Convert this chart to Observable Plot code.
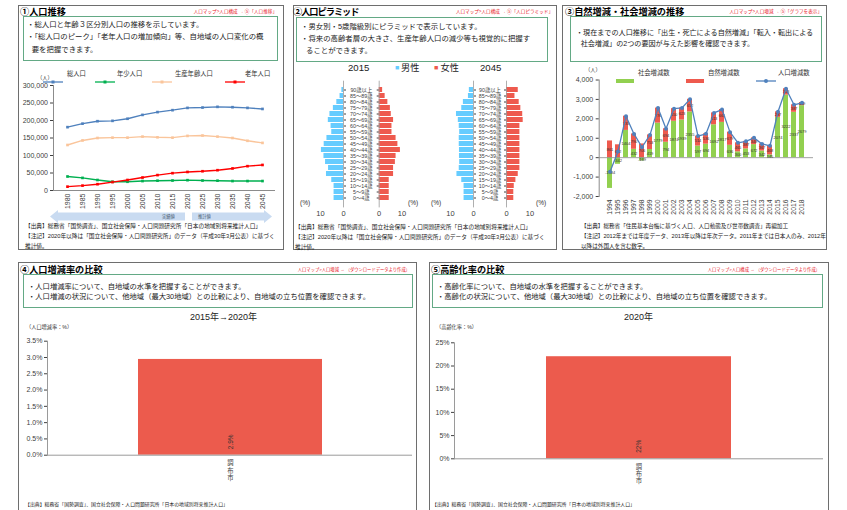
<!DOCTYPE html>
<html lang="ja">
<head>
<meta charset="utf-8">
<script src="https://cdn.jsdelivr.net/npm/d3@7"></script>
<script src="https://cdn.jsdelivr.net/npm/@observablehq/plot@0.6"></script>
<style>
html,body{margin:0;padding:0;background:#fff;}
#root{position:relative;width:847px;height:510px;overflow:hidden;background:#fff;font-family:"Liberation Sans","Noto Sans CJK JP",sans-serif;color:#000;}
#root div{position:absolute;white-space:nowrap;}
.panel{border:1px solid #6e6e6e;box-sizing:border-box;}
.gbox{border:1.2px solid #63a985;box-sizing:border-box;}
.ttl{font-weight:bold;font-size:9.2px;line-height:12px;}
.lnk{color:#e8141e;font-size:4.6px;line-height:6px;text-align:right;}
.txt{font-size:7.4px;color:#1a1a1a;}
.ft{color:#1a1a1a;}
.chart svg{display:block;}
</style>
</head>
<body><div id="root"></div>
<script>
// ================= DATA =================
// Panel 1: population trend
const years1 = ["1980","1985","1990","1995","2000","2005","2010","2015","2020","2025","2030","2035","2040","2045"];
const totalPop   = [181000,191000,198000,199000,205000,216000,224000,229500,236000,237000,239000,238000,236000,233000];
const youngPop   = [40000,36000,30000,25000,25000,27000,28000,28500,29500,28500,28000,27000,27000,27000];
const workingPop = [130000,143000,150000,151000,151000,154000,152000,151000,156000,157000,154000,150000,142000,136000];
const elderlyPop = [11000,14000,18000,24000,30000,37000,44000,49500,53000,55000,58000,63000,69500,73000];
const seriesNames1  = ["総人口","年少人口","生産年齢人口","老年人口"];
const seriesColors1 = ["#4f81bd","#00b050","#fac59b","#ff0000"];
const yTicks1 = [0,50000,100000,150000,200000,250000,300000];

// Panel 2: population pyramid (%), from 0-4 upward
const ageGroups = ["0～4歳","5～9歳","10～14歳","15～19歳","20～24歳","25～29歳","30～34歳","35～39歳","40～44歳","45～49歳","50～54歳","55～59歳","60～64歳","65～69歳","70～74歳","75～79歳","80～84歳","85～89歳","90歳以上"];
const male2015   = [4.1,4.1,4.1,5.1,7.4,6.5,7.8,8.5,9.6,8.4,7.2,5.1,5.4,6.6,5.9,4.4,2.9,1.5,0.7];
const female2015 = [4.4,4.4,4.4,4.4,6.3,6.3,7.1,7.4,9.3,8.2,7.4,5.6,5.6,6.3,5.3,4.9,3.8,2.6,1.5];
const male2045   = [4.1,4.1,4.1,5.1,7.2,6.2,6.0,6.1,6.1,6.2,6.2,6.0,6.2,6.6,7.4,5.1,4.4,2.2,1.8];
const female2045 = [3.1,3.1,3.3,4.0,5.0,5.7,5.7,5.7,5.7,5.7,5.7,5.7,5.7,7.1,6.9,6.1,5.4,3.6,5.0];
const pyramidYears = ["2015","2045"];

// Panel 3: natural / social change
const years3 = ["1994","1995","1996","1997","1998","1999","2000","2001","2002","2003","2004","2005","2006","2007","2008","2009","2010","2011","2012","2013","2014","2015","2016","2017","2018"];
const socialChange  = [-1584,-342,1404,432,-169,419,1779,794,1874,1939,2355,597,694,1692,1817,636,300,453,672,342,145,2074,3222,2337,2679];
const naturalChange = [861,662,733,790,706,753,776,694,650,623,652,514,536,613,661,679,465,387,348,367,468,287,328,387,149];
const popChange     = [-723,320,2137,1222,537,1172,2555,1488,2524,2562,3007,1111,1230,2305,2478,1315,765,840,1020,709,613,2361,3550,2724,2828];
const seriesNames3  = ["社会増減数","自然増減数","人口増減数"];
const seriesColors3 = ["#92d050","#ee5a4e","#4f81bd"];
const yTicks3 = [-2000,-1000,0,1000,2000,3000,4000];

// Panels 4 & 5
const regions = ["調布市"];
const growthRate = [2.94];
const agingRate = [22.0];
const yTicks4 = [0,0.5,1.0,1.5,2.0,2.5,3.0,3.5];
const yTicks5 = [0,5,10,15,20,25];

// ================= HELPERS =================
const FONT = '"Liberation Sans","Noto Sans CJK JP",sans-serif';
const root = document.getElementById("root");
function el(cls, css, text) {
  const d = document.createElement("div");
  if (cls) d.className = cls;
  Object.assign(d.style, css);
  if (text != null) d.textContent = text;
  root.appendChild(d);
  return d;
}
function rect(cls, x1, y1, x2, y2) { return el(cls, {left:x1+"px", top:y1+"px", width:(x2-x1)+"px", height:(y2-y1)+"px"}); }
function textAt(t, x, yc, size, lh, extra={}) {
  return el(extra.cls || "", Object.assign({left:x+"px", top:(yc-lh/2)+"px", fontSize:size+"px", lineHeight:lh+"px"}, extra.css||{}), t);
}
function textRight(t, xr, yc, size, lh, cls) {
  return el(cls, {right:(847-xr)+"px", top:(yc-lh/2)+"px", fontSize:size+"px", lineHeight:lh+"px"}, t);
}
function place(svg, x, y) {
  const d = el("chart", {left:x+"px", top:y+"px"});
  d.appendChild(svg);
  return d;
}
const baseStyle = {background:"transparent", fontFamily:FONT, color:"#404040", overflow:"visible"};

// ================= PANEL FRAMES =================
rect("panel", 18, 5, 284, 250);
rect("panel", 293, 5, 557, 250);
rect("panel", 562, 5, 827, 250);
rect("panel", 18, 262, 417, 515);
rect("panel", 429, 262, 829, 515);

rect("gbox", 23, 16, 278, 61);
rect("gbox", 296, 17, 548, 62);
rect("gbox", 570, 16, 822, 62);
rect("gbox", 23, 274, 413, 308);
rect("gbox", 432, 274, 823, 308);

// titles
textAt("①人口推移", 20, 12, 9.2, 12, {cls:"ttl"});
textAt("②人口ピラミッド", 293, 12, 9.2, 12, {cls:"ttl", css:{letterSpacing:"-1px"}});
textAt("③自然増減・社会増減の推移", 565, 12, 9.2, 12, {cls:"ttl"});
textAt("④人口増減率の比較", 20, 270, 9.2, 12, {cls:"ttl"});
textAt("⑤高齢化率の比較", 431, 270, 9.2, 12, {cls:"ttl"});

// links
textRight("人口マップ>人口構成 → ⑤「人口推移」", 277, 12, 4.6, 6, "lnk");
textRight("人口マップ>人口構成 → ⑤「人口ピラミッド」", 553, 12, 4.6, 6, "lnk");
textRight("人口マップ>人口増減 → ⑤「グラフを表示」", 822, 12, 4.6, 6, "lnk");
textRight("人口マップ>人口増減 → （ダウンロードデータより作成）", 410, 270, 4.3, 6, "lnk");
textRight("人口マップ>人口構成 → （ダウンロードデータより作成）", 820, 270, 4.3, 6, "lnk");

// body texts
function lines(arr, x, y0, lh, size, indents) {
  arr.forEach((t, i) => textAt(t, x + (indents ? indents[i] : 0), y0 + i*lh, size, lh, {cls:"txt"}));
}
lines(["・総人口と年齢３区分別人口の推移を示しています。","・「総人口のピーク」「老年人口の増加傾向」等、自地域の人口変化の概","要を把握できます。"], 27, 25, 12.5, 7.4, [0,0,4.7]);
lines(["・男女別・5歳階級別にピラミッドで表示しています。","・将来の高齢者層の大きさ、生産年齢人口の減少等も視覚的に把握す","ることができます。"], 301, 26.7, 12, 7.4, [0,0,5]);
lines(["・現在までの人口推移に「出生・死亡による自然増減」「転入・転出による","社会増減」の2つの要因が与えた影響を確認できます。"], 576, 33.3, 11.4, 7.1, [0,4.7]);
lines(["・人口増減率について、自地域の水準を把握することができます。","・人口増減の状況について、他地域（最大30地域）との比較により、自地域の立ち位置を確認できます。"], 28, 287.3, 10, 7.3);
lines(["・高齢化率について、自地域の水準を把握することができます。","・高齢化の状況について、他地域（最大30地域）との比較により、自地域の立ち位置を確認できます。"], 437, 286.7, 10, 7.3);

// footers
function foot(arr, x, y0, lh, size) { arr.forEach((t,i) => textAt(t, x, y0 + i*lh, size, lh, {cls:"ft"})); }
const src1 = "【出典】総務省「国勢調査」、国立社会保障・人口問題研究所「日本の地域別将来推計人口」";
const note1 = "【注記】2020年以降は「国立社会保障・人口問題研究所」のデータ（平成30年3月公表）に基づく";
foot([src1, note1, "推計値。"], 25, 227, 9.7, 5.7);
foot([src1, note1, "推計値。"], 295, 228, 9.7, 5.7);
foot(["【出典】総務省「住民基本台帳に基づく人口、人口動態及び世帯数調査」再編加工","【注記】2012年までは年度データ、2013年以降は年次データ。2011年までは日本人のみ、2012年","以降は外国人を含む数字。"], 581, 226, 10, 5.6);
foot([src1], 25, 505, 8, 4.9);
foot([src1], 432, 505, 8, 4.9);

// ================= PANEL 1 =================
// legend
const leg1 = [[43,67],[95,117],[152,175],[225,245]];
seriesNames1.forEach((n, i) => {
  const [lx, tx] = leg1[i];
  const d = el("", {left:lx+"px", top:"71px", width:"20px", height:"6px"});
  d.innerHTML = `<svg width="20" height="6"><line x1="0" y1="3" x2="20" y2="3" stroke="${seriesColors1[i]}" stroke-width="1.3"/><rect x="8.5" y="1.5" width="3" height="3" fill="${seriesColors1[i]}"/></svg>`;
  textAt(n, tx, 74, 6.3, 8, {css:{color:"#333"}});
});
textAt("（人）", 37, 78.3, 5.3, 7, {css:{color:"#333"}});

const rows1 = [totalPop, youngPop, workingPop, elderlyPop].flatMap((vals, s) =>
  years1.map((y, i) => ({year: y, value: vals[i], name: seriesNames1[s]})));
place(Plot.plot({
  width: 290, height: 155,
  marginLeft: 53, marginRight: 15, marginTop: 23, marginBottom: 27,
  style: Object.assign({fontSize: "7px"}, baseStyle),
  x: {type: "point", domain: years1, padding: 0.5, label: null},
  y: {domain: [0, 300000], label: null},
  color: {domain: seriesNames1, range: seriesColors1},
  marks: [
    Plot.frame({anchor: "left", stroke: "#8c8c8c"}),
    Plot.ruleY([0], {stroke: "#8c8c8c"}),
    Plot.axisY({ticks: yTicks1, tickSize: 3, tickPadding: 2.5, tickFormat: d3.format(","), fontSize: 7}),
    Plot.axisX({tickRotate: -90, tickSize: 0, tickPadding: 3, fontSize: 7}),
    Plot.line(rows1, {x: "year", y: "value", z: "name", stroke: "name", strokeWidth: 1.4}),
    Plot.dot(rows1, {x: "year", y: "value", fill: "name", symbol: "square", r: 1.5})
  ]
}), 0, 62);

// arrows (actual / projected)
el("", {left:"50px", top:"210px", width:"135px", height:"13px", background:"#c9dbf1",
  clipPath:"polygon(0 50%, 8px 0, 8px 20%, 100% 20%, 100% 80%, 8px 80%, 8px 100%)"});
el("", {left:"192px", top:"210px", width:"80px", height:"13px", background:"#c9dbf1",
  clipPath:"polygon(0 20%, calc(100% - 8px) 20%, calc(100% - 8px) 0, 100% 50%, calc(100% - 8px) 100%, calc(100% - 8px) 80%, 0 80%)"});
textAt("実績値", 162, 216.5, 4.3, 6, {css:{color:"#44546a"}});
textAt("推計値", 198, 216.5, 4.3, 6, {css:{color:"#44546a"}});

// ================= PANEL 2 =================
textAt(pyramidYears[0], 348, 68.3, 9.6, 12, {css:{color:"#222"}});
textAt(pyramidYears[1], 480, 68.3, 9.6, 12, {css:{color:"#222"}});
textAt("■", 395, 68.3, 7, 12, {css:{color:"#66ccff"}});
textAt("男性", 401, 68.3, 9.2, 12, {css:{color:"#222"}});
textAt("■", 434, 68.3, 7, 12, {css:{color:"#ee5a4e"}});
textAt("女性", 440.5, 68.3, 9.2, 12, {css:{color:"#222"}});
[[300,202.7],[408,202.7],[431,202.7],[536,202.7]].forEach(([x,y]) => textAt("(%)", x, y, 6.5, 8, {css:{color:"#333"}}));

function pyrHalf(values, color, x0, x10, isMale, labelPad) {
  const left = 288, W = 270, H = 148;
  const rows = ageGroups.map((a, i) => ({age: a, v: values[i]}));
  const marginLeft = isMale ? x10 - left : x0 - left;
  const marginRight = isMale ? left + W - x0 : left + W - x10;
  const svg = Plot.plot({
    width: W, height: H, marginLeft, marginRight, marginTop: 5.7, marginBottom: 15.6,
    style: Object.assign({fontSize: "7px"}, baseStyle),
    x: {domain: [0, 10], reverse: isMale, label: null},
    y: {type: "band", domain: ageGroups.slice().reverse(), padding: 0.1, label: null},
    marks: [
      Plot.barX(rows, {x: "v", y: "age", fill: color}),
      Plot.ruleX([0], {stroke: "#9a9a9a", strokeWidth: 0.8}),
      Plot.axisX({ticks: [0, 10], tickSize: 0, tickPadding: 3, fontSize: 7.5}),
      isMale
        ? Plot.axisY({anchor: "right", tickSize: 2, tickPadding: labelPad, textAnchor: "middle", fontSize: 5.3})
        : Plot.axisY({anchor: "left", tickSize: 2, tickFormat: () => ""})
    ]
  });
  place(svg, left, 75);
}
pyrHalf(male2015, "#66ccff", 343, 320, true, 15.8);
pyrHalf(female2015, "#ee5a4e", 378.7, 401.5, false);
pyrHalf(male2045, "#66ccff", 473, 450, true, 14.5);
pyrHalf(female2045, "#ee5a4e", 506, 529.5, false);

// ================= PANEL 3 =================
const leg3 = [[616,638],[686,708],[756,778]];
seriesNames3.forEach((n, i) => {
  const [lx, tx] = leg3[i];
  const d = el("", {left:lx+"px", top:"70px", width:"20px", height:"6px"});
  d.innerHTML = i < 2
    ? `<svg width="18" height="6"><rect x="0" y="1" width="18" height="4" fill="${seriesColors3[i]}"/></svg>`
    : `<svg width="20" height="6"><line x1="0" y1="3" x2="20" y2="3" stroke="${seriesColors3[i]}" stroke-width="1.3"/><circle cx="10" cy="3" r="2" fill="${seriesColors3[i]}"/></svg>`;
  textAt(n, tx, 73, 6.3, 8, {css:{color:"#333"}});
});
textAt("（人）", 585, 70.7, 5.3, 7, {css:{color:"#333"}});

const rows3 = years3.flatMap((y, i) => [
  {year: y, type: seriesNames3[0], value: socialChange[i]},
  {year: y, type: seriesNames3[1], value: naturalChange[i]}
]);
const line3 = years3.map((y, i) => ({year: y, value: popChange[i]}));
place(Plot.plot({
  width: 270, height: 158,
  marginLeft: 40.7, marginRight: 15, marginTop: 17.5, marginBottom: 24,
  style: Object.assign({fontSize: "7px"}, baseStyle),
  x: {type: "band", domain: years3, padding: 0.37, label: null},
  y: {domain: [-2000, 4000], label: null},
  color: {domain: seriesNames3.slice(0, 2), range: seriesColors3.slice(0, 2)},
  marks: [
    Plot.barY(rows3, {x: "year", y: "value", fill: "type"}),
    Plot.ruleY([0], {stroke: "#8c8c8c", strokeWidth: 0.8}),
    Plot.frame({anchor: "left", stroke: "#8c8c8c"}),
    Plot.axisY({ticks: yTicks3, tickSize: 3, tickPadding: 3, tickFormat: d => d.toLocaleString("en-US"), fontSize: 7}),
    Plot.axisX({tickRotate: -90, tickSize: 0, tickPadding: 3, fontSize: 6.8}),
    Plot.text(rows3, Plot.stackY({x: "year", y: "value", z: "type", text: d => String(d.value), fontSize: 4, fill: "#333"})),
    Plot.line(line3, {x: "year", y: "value", stroke: seriesColors3[2], strokeWidth: 1.3}),
    Plot.dot(line3, {x: "year", y: "value", fill: seriesColors3[2], r: 2})
  ]
}), 558, 62);

// ================= PANEL 4 =================
textAt("2015年→2020年", 190, 317, 9, 12, {css:{color:"#222"}});
textAt("（人口増減率：%）", 26, 327, 5.2, 7, {css:{color:"#333"}});
const rows4 = regions.map((r, i) => ({r, v: growthRate[i]}));
place(Plot.plot({
  width: 425, height: 160,
  marginLeft: 47, marginRight: 13, marginTop: 8.7, marginBottom: 37.3,
  style: Object.assign({fontSize: "7px"}, baseStyle),
  x: {type: "band", domain: regions, padding: 0.3285, label: null},
  y: {domain: [0, 3.5], label: null},
  marks: [
    Plot.barY(rows4, {x: "r", y: "v", fill: "#ec5b4d"}),
    Plot.ruleY([0], {stroke: "#9a9a9a"}),
    Plot.frame({anchor: "left", stroke: "#9a9a9a"}),
    Plot.axisY({ticks: yTicks4, tickSize: 3, tickPadding: 2, tickFormat: d => d.toFixed(1) + "%", fontSize: 7}),
    Plot.axisX({tickSize: 0, tickPadding: 5, tickFormat: d => Array.from(d).join("\n"), fontSize: 6.3, lineHeight: 1.15}),
    Plot.text(rows4, {x: "r", y: 0, text: d => d.v.toFixed(1) + "%", rotate: -90, textAnchor: "start", dy: -6, fontSize: 6.5, fill: "#333"})
  ]
}), 0, 332);

// ================= PANEL 5 =================
textAt("2020年", 624, 317, 9, 12, {css:{color:"#222"}});
textAt("（高齢化率：%）", 436, 327, 5.2, 7, {css:{color:"#333"}});
const rows5 = regions.map((r, i) => ({r, v: agingRate[i]}));
place(Plot.plot({
  width: 422, height: 160,
  marginLeft: 29, marginRight: 24, marginTop: 10.3, marginBottom: 33.7,
  style: Object.assign({fontSize: "7px"}, baseStyle),
  x: {type: "band", domain: regions, padding: 0.332, label: null},
  y: {domain: [0, 25], label: null},
  marks: [
    Plot.barY(rows5, {x: "r", y: "v", fill: "#ec5b4d"}),
    Plot.ruleY([0], {stroke: "#9a9a9a"}),
    Plot.frame({anchor: "left", stroke: "#9a9a9a"}),
    Plot.axisY({ticks: yTicks5, tickSize: 3, tickPadding: 2, tickFormat: d => d + "%", fontSize: 7}),
    Plot.axisX({tickSize: 0, tickPadding: 5, tickFormat: d => Array.from(d).join("\n"), fontSize: 6.3, lineHeight: 1.15}),
    Plot.text(rows5, {x: "r", y: 0, text: d => d.v.toFixed(0) + "%", rotate: -90, textAnchor: "start", dy: -6, fontSize: 6.5, fill: "#333"})
  ]
}), 425, 332);
</script>
</body>
</html>
